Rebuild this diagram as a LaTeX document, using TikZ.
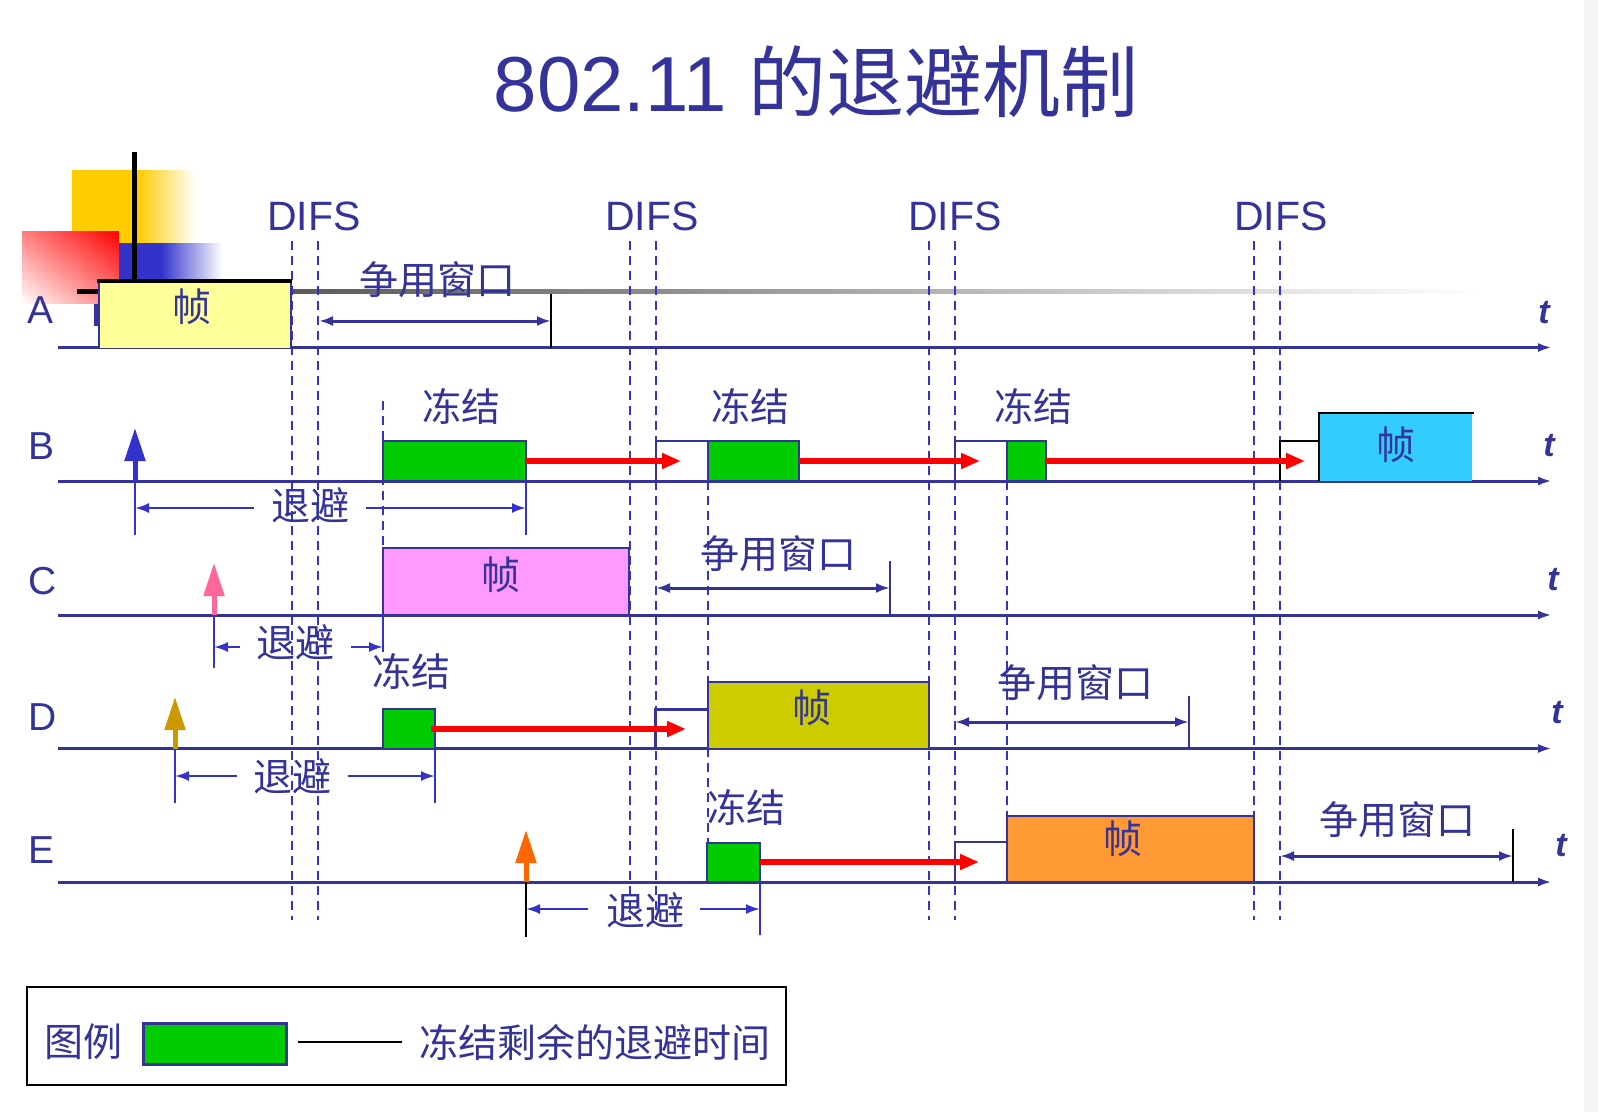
\documentclass[tikz,border=0pt]{standalone}
\usepackage{fontspec}
\setmainfont{Liberation Sans}
\newfontfamily\cjk{Noto Sans CJK SC}
\usetikzlibrary{arrows.meta}

\definecolor{navy}{HTML}{333399}
\definecolor{bright}{HTML}{3333CC}
\definecolor{frgreen}{HTML}{00CC00}
\definecolor{fryellow}{HTML}{FFFF99}
\definecolor{frcyan}{HTML}{33CCFF}
\definecolor{frpink}{HTML}{FF99FF}
\definecolor{frolive}{HTML}{CCCC00}
\definecolor{frorange}{HTML}{FF9933}
\definecolor{arrpink}{HTML}{FF6699}
\definecolor{arrgold}{HTML}{CC9900}
\definecolor{arrorange}{HTML}{FF6600}
\definecolor{logoyellow}{HTML}{FFCC00}

\tikzset{
  cjklabel/.style={font={\cjk\fontsize{39pt}{39pt}\selectfont}, text=navy, inner sep=0pt},
  rowlabel/.style={font={\fontsize{39pt}{39pt}\selectfont}, text=navy, inner sep=0pt, anchor=west},
  difslabel/.style={font={\fontsize{41pt}{41pt}\selectfont}, text=navy, inner sep=0pt},
  tlabel/.style={font={\fontsize{34pt}{34pt}\selectfont\bfseries\itshape}, text=navy, inner sep=0pt},
  axisline/.style={draw=navy, line width=3pt, -{Latex[length=14pt,width=9pt]}},
  difsline/.style={draw=bright, line width=2pt, dash pattern=on 9pt off 6pt},
  framebox/.style={draw=navy, line width=2pt},
  greenbox/.style={draw=navy, line width=2pt, fill=frgreen},
  waitline/.style={draw=navy, line width=2pt},
  redarrow/.style={draw=red, line width=6pt, -{Triangle[length=19pt,width=15pt]}},
  arrival/.style={line width=5pt, -{Triangle[length=33pt,width=20pt]}},
  backoff/.style={draw=bright, line width=2.2pt, -{Latex[length=14pt,width=10pt]}},
  window/.style={draw=navy, line width=3pt, {Latex[length=14pt,width=10pt]}-{Latex[length=14pt,width=10pt]}},
  tick/.style={line width=2pt},
}

\begin{document}
\begin{tikzpicture}[x=1pt, y=-1pt]
  % page
  \fill[white] (0,0) rectangle (1598,1112);
  \useasboundingbox (0,0) rectangle (1598,1112);
  \fill[gray!9] (1584,0) rectangle (1598,1112);

  % title
  \node[inner sep=0pt, text=navy] (title) at (816,82)
    {\fontsize{78pt}{78pt}\selectfont 802.11 {\cjk 的退避机制}};

  % bullet ornament in the corner
  \fill[logoyellow] (72,170) rectangle (138,243);
  \shade[left color=logoyellow, right color=white] (138,170) rectangle (195,243);
  \fill[bright] (119,243) rectangle (161,281);
  \shade[left color=bright, right color=white] (161,243) rectangle (222,281);
  % red square: red in the upper right corner, white in the lower left
  \foreach \i in {0,...,23}{
    \foreach \j in {0,...,17}{
      \pgfmathsetmacro{\p}{100*(0.5*(\i+0.5)/24 + 0.5*(1-(\j+0.5)/18))}
      \fill[red!\p!white] ({22+\i*97/24},{231+\j*73/18}) rectangle ({22+(\i+1)*97/24+0.4},{231+(\j+1)*73/18+0.4});
    }
  }
  \draw[line width=4.5pt] (134.5,152) -- (134.5,281);
  \fill[black] (77,289) rectangle (99,294);
  \shade[left color=black!75, right color=white] (99,289) rectangle (1480,293.5);
  \fill[navy] (94,304) rectangle (99,326);

  % station letters
  \node[rowlabel] (lA) at (27,310) {A};
  \node[rowlabel] (lB) at (28,446) {B};
  \node[rowlabel] (lC) at (28,581) {C};
  \node[rowlabel] (lD) at (28,717) {D};
  \node[rowlabel] (lE) at (28,850) {E};

  % DIFS labels and dashed guide lines
  \node[difslabel] (difs1) at (314,216) {DIFS};
  \node[difslabel] (difs2) at (652,216) {DIFS};
  \node[difslabel] (difs3) at (955,216) {DIFS};
  \node[difslabel] (difs4) at (1281,216) {DIFS};
  \foreach \x in {292,318,630,656,929,955,1254,1280}
    \draw[difsline] (\x,241) -- (\x,920);
  \draw[difsline] (383,401) -- (383,548);
  \draw[difsline] (708,481) -- (708,682);
  \draw[difsline] (708,748) -- (708,843);
  \draw[difsline] (1007,481) -- (1007,816);

  % time axes
  \foreach \y/\n in {347.5/A,481/B,615/C,748.5/D,882/E}
    \draw[axisline] (58,\y) coordinate (ax\n) -- (1552,\y) coordinate (tip\n);
  \node[tlabel] (tA) at (1544,313) {t};
  \node[tlabel] (tB) at (1549,446) {t};
  \node[tlabel] (tC) at (1553,580) {t};
  \node[tlabel] (tD) at (1557,713) {t};
  \node[tlabel] (tE) at (1561,846) {t};

  % ---- station A
  \path[fill=fryellow] (99,281) rectangle (291,348);
  \draw[framebox] (99,348) -- (99,281) (291,281) -- (291,348);
  \draw[line width=3.5pt] (97,281) -- (292,281);
  \node[cjklabel] (fA) at (192,307) {帧};
  \node[cjklabel] (wA) at (437,280) {争用窗口};
  \draw[tick, black] (551,294) -- (551,348);
  \draw[window] (319,321) -- (551,321);

  % ---- station B
  \draw[arrival, bright] (135,481) -- (135,428);
  \draw[tick, bright] (135,481) -- (135,535);
  \draw[tick, bright] (526,481) -- (526,535);
  \node[cjklabel] (bB) at (310,505) {退避};
  \draw[backoff] (254,508) -- (135,508);
  \draw[backoff] (366,508) -- (526,508);
  \draw[greenbox] (383,441) rectangle (526,481);
  \node[cjklabel] (zB1) at (461,407) {冻结};
  \draw[waitline] (656,481) -- (656,441) -- (708,441);
  \draw[greenbox] (708,441) rectangle (799,481);
  \node[cjklabel] (zB2) at (750,407) {冻结};
  \draw[waitline] (955,481) -- (955,441) -- (1007,441);
  \draw[greenbox] (1007,441) rectangle (1046,481);
  \node[cjklabel] (zB3) at (1033,407) {冻结};
  \draw[waitline, black] (1280,481) -- (1280,441) -- (1319,441);
  \fill[frcyan] (1319,413) rectangle (1472,481);
  \draw[line width=2.5pt] (1319,481) -- (1319,413) -- (1474,413);
  \node[cjklabel] (fB) at (1396,445) {帧};
  \draw[redarrow] (526,461) -- (681,461);
  \draw[redarrow] (799,461) -- (980,461);
  \draw[redarrow] (1046,461) -- (1305,461);

  % ---- station C
  \draw[arrival, arrpink] (214,615) -- (214,563);
  \draw[tick, bright] (214,615) -- (214,668);
  \draw[tick, bright] (383,615) -- (383,652);
  \node[cjklabel] (bC) at (295,642) {退避};
  \draw[backoff] (240,647) -- (214,647);
  \draw[backoff] (351,647) -- (383,647);
  \draw[framebox, fill=frpink] (383,548) rectangle (629,615);
  \node[cjklabel] (fC) at (501,575) {帧};
  \node[cjklabel] (wC) at (778,554) {争用窗口};
  \draw[tick, navy] (890,561) -- (890,615);
  \draw[window] (656,588) -- (890,588);

  % ---- station D
  \draw[arrival, arrgold] (175,749) -- (175,697);
  \draw[tick, bright] (175,749) -- (175,803);
  \draw[tick, bright] (435,749) -- (435,803);
  \node[cjklabel] (bD) at (292,776) {退避};
  \draw[backoff] (237,776) -- (175,776);
  \draw[backoff] (348,776) -- (435,776);
  \draw[greenbox] (383,709) rectangle (435,749);
  \node[cjklabel] (zD) at (411,672) {冻结};
  \draw[navy, line width=3pt] (655,709) rectangle (708,748.5);
  \draw[framebox, fill=frolive] (708,682) rectangle (929,748.5);
  \node[cjklabel] (fD) at (812,708) {帧};
  \draw[redarrow] (431,729) -- (686,729);
  \node[cjklabel] (wD) at (1075,683) {争用窗口};
  \draw[tick, navy] (1189,696) -- (1189,748);
  \draw[window] (955,722) -- (1189,722);

  % ---- station E
  \draw[arrival, arrorange] (526,882) -- (526,830);
  \draw[tick, black] (526,882) -- (526,937);
  \draw[tick, bright] (760,882) -- (760,935);
  \node[cjklabel] (bE) at (645,910) {退避};
  \draw[backoff] (588,909) -- (526,909);
  \draw[backoff] (700,909) -- (760,909);
  \draw[greenbox] (707,843) rectangle (760,882);
  \node[cjklabel] (zE) at (746,808) {冻结};
  \draw[waitline] (955,882) -- (955,842) -- (1007,842);
  \draw[framebox, fill=frorange] (1007,816) rectangle (1254,882);
  \node[cjklabel] (fE) at (1123,839) {帧};
  \draw[redarrow] (760,862) -- (979,862);
  \node[cjklabel] (wE) at (1397,820) {争用窗口};
  \draw[tick, black] (1513,829) -- (1513,882);
  \draw[window] (1280,856) -- (1513,856);

  % ---- legend
  \draw[black, line width=2pt] (27,987) rectangle (786,1085);
  \node[cjklabel] (legtitle) at (83,1042) {图例};
  \draw[navy, line width=3pt, fill=frgreen] (143,1023) rectangle (286,1064);
  \draw[black, line width=1.5pt] (298,1042) -- (402,1042);
  \node[cjklabel, anchor=west] (legtext) at (419,1042) {冻结剩余的退避时间};
\end{tikzpicture}
\end{document}
